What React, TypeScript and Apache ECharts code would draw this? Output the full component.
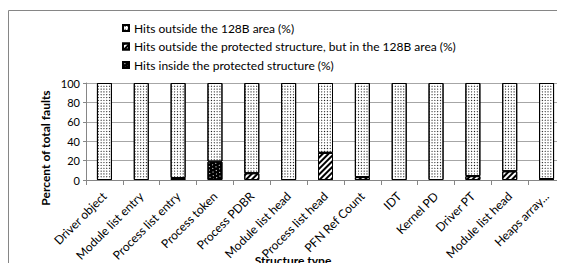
import React, { useEffect, useRef } from "react";
import * as echarts from "echarts";

const categories = [
  "Driver object",
  "Module list entry",
  "Process list entry",
  "Process token",
  "Process PDBR",
  "Module list head",
  "Process list head",
  "PFN Ref Count",
  "IDT",
  "Kernel PD",
  "Driver PT",
  "Module list head",
  "Heaps array...",
];
const insideProtected = [0, 0, 0, 19, 0, 0, 0, 0, 0, 0, 0, 0, 0];
const outsideProtectedIn128 = [0, 0, 2, 0, 7, 0, 28, 3, 0, 0, 4, 9, 1];
const outside128 = [100, 100, 98, 81, 93, 100, 72, 97, 100, 100, 96, 91, 99];
const yTicks = [0, 20, 40, 60, 80, 100];

const nameOutside = "Hits outside the 128B area (%)";
const nameHatched = "Hits outside the protected structure, but in the 128B area (%)";
const nameInside = "Hits inside the protected structure (%)";
const yTitle = "Percent of total faults";
const xTitle = "Structure type";

const FONT = "Lato";
const nz = (arr: number[]) => arr.map((v) => (v === 0 ? null : v));

export default function App() {
  const ref = useRef<HTMLDivElement>(null);
  useEffect(() => {
    if (!ref.current) return;
    const chart = echarts.init(ref.current, null, { renderer: "svg" });
    const dotDecal = {
      symbol: "rect",
      symbolSize: 1,
      dashArrayX: [[1, 3], [0, 2, 1, 1]],
      dashArrayY: [1, 1],
      color: "#000",
      backgroundColor: "#fff",
    };
    const hatchDecal = {
      symbol: "rect",
      symbolSize: 1,
      dashArrayX: [1, 0],
      dashArrayY: [1.5, 1.5],
      rotation: -Math.PI / 4,
      color: "#000",
      backgroundColor: "#fff",
    };
    const blackDecal = {
      symbol: "rect",
      symbolSize: 1,
      dashArrayX: [[1, 3], [0, 2, 1, 1]],
      dashArrayY: [1, 2],
      color: "#fff",
      backgroundColor: "#000",
    };
    const base = {
      type: "bar",
      stack: "s",
      barWidth: 15,
    };
    chart.setOption({
      animation: false,
      aria: { enabled: true, decal: { show: true } },
      textStyle: { fontFamily: FONT },
      graphic: [
        {
          type: "rect",
          id: "frame",
          shape: { x: 8.5, y: 10.5, width: 620, height: 300 },
          style: { fill: "none", stroke: "#868686", lineWidth: 1 },
          z: -1,
        },
        {
          type: "text",
          id: "xtitle",
          x: 293,
          y: 254,
          z: 100,
          style: {
            text: xTitle,
            font: "bold 12px Lato",
            fill: "#000",
            textAlign: "center",
            textVerticalAlign: "top",
          },
        },
        {
          type: "text",
          id: "ytitle",
          x: 45,
          y: 148,
          rotation: Math.PI / 2,
          style: {
            text: yTitle,
            font: "bold 12px Lato",
            fill: "#000",
            textAlign: "center",
            textVerticalAlign: "middle",
          },
        },
      ],
      legend: {
        orient: "vertical",
        left: 117,
        top: 17,
        itemWidth: 6,
        itemHeight: 6,
        itemGap: 6.5,
        icon: "rect",
        data: [nameOutside, nameHatched, nameInside],
        textStyle: { fontFamily: FONT, fontSize: 12, color: "#000" },
      },
      grid: { left: 86, top: 83, width: 481, height: 97, containLabel: false },
      xAxis: {
        type: "category",
        data: categories,
        axisLine: { show: true, lineStyle: { color: "#868686" } },
        axisTick: { show: true, length: 5, lineStyle: { color: "#868686" } },
        axisLabel: {
          interval: 0,
          rotate: 45,
          fontSize: 12,
          fontFamily: FONT,
          color: "#000",
          margin: 14,
        },
      },
      yAxis: {
        type: "value",
        min: 0,
        max: 100,
        interval: 20,
        axisLine: { show: true, lineStyle: { color: "#868686" } },
        axisTick: { show: true, length: 3, lineStyle: { color: "#868686" } },
        axisLabel: {
          fontSize: 11,
          fontFamily: FONT,
          color: "#000",
          margin: 6,
          formatter: (v: number) => (yTicks.includes(v) ? String(v) : ""),
        },
        splitLine: { show: true, lineStyle: { color: "#a6a6a6" } },
      },
      series: [
        {
          ...base,
          name: nameInside,
          data: nz(insideProtected),
          itemStyle: { color: "#000", borderColor: "#000", borderWidth: 1, decal: blackDecal },
        },
        {
          ...base,
          name: nameHatched,
          data: nz(outsideProtectedIn128),
          itemStyle: { color: "#fff", borderColor: "#000", borderWidth: 1, decal: hatchDecal },
        },
        {
          ...base,
          name: nameOutside,
          data: nz(outside128),
          itemStyle: { color: "#fff", borderColor: "#000", borderWidth: 1, decal: dotDecal },
        },
      ],
    });
    return () => chart.dispose();
  }, []);
  return <div ref={ref} style={{ width: 565, height: 271, margin: -8 }} />;
}
